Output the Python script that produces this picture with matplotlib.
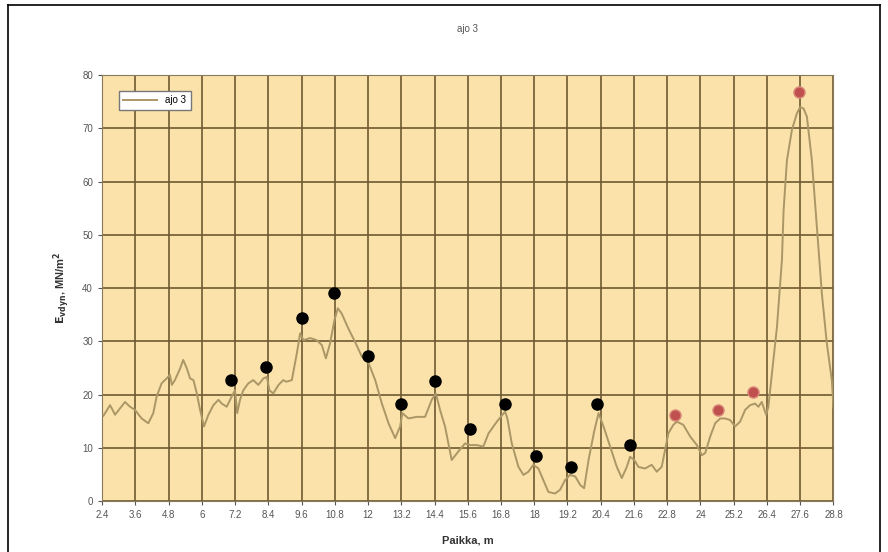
import matplotlib
matplotlib.use("Agg")
import matplotlib.pyplot as plt
from matplotlib.lines import Line2D

plt.rcParams['font.family'] = ['Liberation Sans', 'DejaVu Sans']

# measured curve (position m, E value)
pos = [2.45, 2.69, 2.87, 3.05, 3.23, 3.41, 3.59, 3.83, 4.07, 4.25, 4.37, 4.55, 4.73, 4.85,
       4.92, 5.03, 5.22, 5.33, 5.46, 5.58, 5.70, 5.82, 5.94, 6.08, 6.24, 6.42, 6.60, 6.72,
       6.90, 7.08, 7.20, 7.28, 7.38, 7.50, 7.68, 7.86, 8.04, 8.22, 8.35, 8.44, 8.58, 8.77,
       8.94, 9.05, 9.25, 9.43, 9.55, 9.67, 9.91, 10.15, 10.33, 10.48, 10.63, 10.79, 10.91,
       11.05, 11.29, 11.53, 11.78, 12.02, 12.26, 12.50, 12.74, 12.98, 13.16, 13.24, 13.46,
       13.76, 14.06, 14.30, 14.45, 14.60, 14.78, 15.02, 15.26, 15.50, 15.68, 15.93, 16.16,
       16.35, 16.65, 16.95, 17.03, 17.19, 17.43, 17.61, 17.79, 17.97, 18.15, 18.33, 18.51,
       18.75, 18.93, 19.11, 19.29, 19.48, 19.66, 19.80, 19.96, 20.16, 20.32, 20.50, 20.74,
       20.98, 21.16, 21.34, 21.46, 21.61, 21.76, 22.00, 22.24, 22.42, 22.60, 22.72, 22.84,
       23.02, 23.15, 23.38, 23.63, 23.87, 24.05, 24.17, 24.35, 24.53, 24.71, 24.89, 25.07,
       25.25, 25.43, 25.61, 25.79, 25.97, 26.09, 26.21, 26.37, 26.45, 26.58, 26.76, 26.94,
       27.00, 27.12, 27.30, 27.48, 27.60, 27.72, 27.84, 28.02, 28.20, 28.38, 28.56, 28.74,
       28.80]
ev = [16.0, 18.0, 16.2, 17.4, 18.6, 17.7, 17.1, 15.5, 14.6, 16.5, 19.6, 22.1, 23.0, 23.7,
      21.8, 22.7, 24.9, 26.5, 24.9, 23.0, 22.7, 20.2, 17.1, 14.0, 16.2, 18.0, 19.0, 18.3,
      17.7, 19.6, 20.8, 16.5, 19.0, 20.8, 22.1, 22.7, 21.8, 23.0, 23.3, 20.8, 20.2, 21.8,
      22.7, 22.4, 22.7, 27.7, 31.5, 30.2, 30.6, 30.2, 29.3, 26.8, 29.6, 34.0, 36.2,
      35.2, 32.4, 29.9, 27.1, 25.9, 22.7, 18.3, 14.6, 11.8, 14.0, 16.5, 15.5,
      15.8, 15.8, 19.0, 20.2, 17.1, 14.0, 7.7, 9.3, 10.8, 10.5, 10.5, 10.2,
      12.7, 14.9, 16.8, 15.5, 10.8, 6.4, 4.9, 5.5, 6.8, 6.1, 3.9, 1.7,
      1.4, 2.1, 3.9, 4.9, 4.6, 3.0, 2.4, 7.7, 13.0, 16.5, 14.0, 10.2,
      6.4, 4.3, 6.4, 8.3, 7.7, 6.4, 6.1, 6.8, 5.5, 6.4, 9.6, 12.7,
      14.3, 14.9, 14.3, 12.1, 10.5, 8.6, 9.0, 12.1, 14.6, 15.5, 15.5, 15.2,
      14.0, 14.9, 17.1, 18.0, 18.3, 17.7, 18.6, 16.2, 17.7, 24.0, 32.7, 45.3,
      54.6, 64.0, 69.7, 72.8, 74.0, 73.7, 72.2, 64.0, 51.5, 39.0, 29.6, 22.7,
      17.5]

# highlighted peaks
black_pos = [7.07, 8.33, 9.61, 10.79, 11.99, 13.19, 14.43, 15.69, 16.94, 18.05, 19.31, 20.25, 21.45]
black_val = [22.7, 25.2, 34.4, 39.1, 27.2, 18.2, 22.6, 13.6, 18.2, 8.5, 6.3, 18.2, 10.5]
red_pos = [23.07, 24.63, 25.91, 27.57]
red_val = [16.2, 17.1, 20.5, 76.9]

xticks = [2.4, 3.6, 4.8, 6, 7.2, 8.4, 9.6, 10.8, 12, 13.2, 14.4, 15.6, 16.8, 18, 19.2,
          20.4, 21.6, 22.8, 24, 25.2, 26.4, 27.6, 28.8]
xticklabels = ['2.4', '3.6', '4.8', '6', '7.2', '8.4', '9.6', '10.8', '12', '13.2', '14.4',
               '15.6', '16.8', '18', '19.2', '20.4', '21.6', '22.8', '24', '25.2', '26.4',
               '27.6', '28.8']
yticks = [0, 10, 20, 30, 40, 50, 60, 70, 80]

fig = plt.figure(figsize=(8.88, 5.52), dpi=100)
ax = fig.add_axes([0.1149, 0.0924, 0.8237, 0.7717])
ax.set_facecolor('#fae2aa')

ax.plot(pos, ev, color='#ab9666', linewidth=1.4, label='ajo 3', zorder=3)
ax.plot(black_pos, black_val, 'o', color='black', markersize=8, zorder=4)
ax.plot(red_pos, red_val, 'o', color='#c0504d', markeredgecolor='#d98a7a',
        markersize=8, zorder=4)

ax.set_xlim(2.4, 28.8)
ax.set_ylim(0, 80)
ax.set_xticks(xticks)
ax.set_xticklabels(xticklabels)
ax.set_yticks(yticks)
ax.grid(True, color='#6e5a32', linewidth=1.2)
ax.set_axisbelow(True)
ax.tick_params(labelsize=7, colors='#555555', length=3)
for s in ax.spines.values():
    s.set_color('#8a7a5a')

ax.set_title('ajo 3', fontsize=7, color='#555555', pad=31)
ax.set_xlabel('Paikka, m', fontsize=8, fontweight='bold', color='#333333', labelpad=11)
ax.set_ylabel(r'$\mathbf{E_{vdyn}}$, MN/m$^\mathbf{2}$', fontsize=8, fontweight='bold',
              color='#333333', labelpad=7)

leg = ax.legend(loc='upper left', bbox_to_anchor=(0.016, 0.975), fontsize=7,
                frameon=True, fancybox=False, handlelength=3.5, borderpad=0.5)
leg.get_frame().set_edgecolor('#777777')
leg.get_frame().set_facecolor('white')
leg.get_frame().set_alpha(1)

# outer frame of the chart object
for xs, ys in [([8 / 888, 8 / 888], [0, 547 / 552]),
               ([8 / 888, 880 / 888], [547 / 552, 547 / 552]),
               ([880 / 888, 880 / 888], [0, 547 / 552])]:
    fig.add_artist(Line2D(xs, ys, transform=fig.transFigure, color='black', linewidth=1.2))

fig.savefig('out.png', dpi=100)
